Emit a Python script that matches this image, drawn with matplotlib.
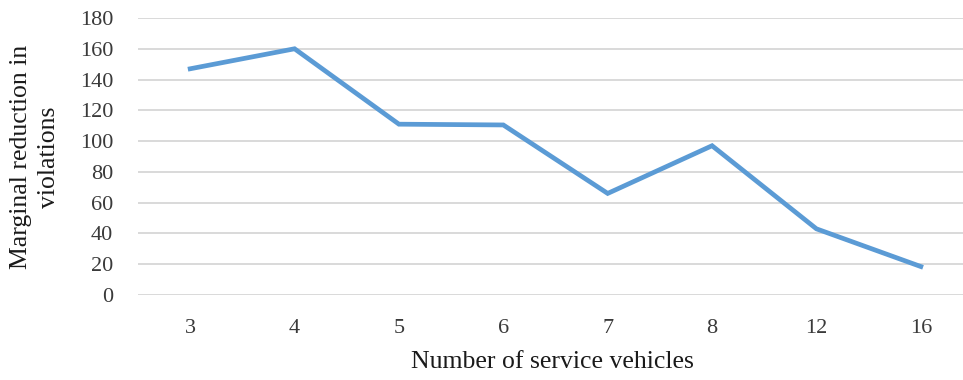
import matplotlib.pyplot as plt

# Marginal reduction in violations per added service vehicle
vehicles = ["3", "4", "5", "6", "7", "8", "12", "16"]
reduction = [147, 160, 111, 110.5, 66, 97, 43, 18.5]

plt.rcParams['font.family'] = ['Liberation Serif', 'DejaVu Serif']

W, H = 963, 380
fig = plt.figure(figsize=(W / 100, H / 100), dpi=100)
# plot area: left 140px, right edge runs past the image like the cropped original
left, right = 138, 973
top, bottom = 18, 295
ax = fig.add_axes([left / W, (H - bottom) / H, (right - left) / W, (bottom - top) / H])

x = range(len(vehicles))
ax.plot(x, reduction, color='#5B9BD5', linewidth=3.4, solid_joinstyle='miter', zorder=3)

ax.set_xlim(-0.5, len(vehicles) - 0.5)
ax.set_ylim(0, 180)
ax.set_yticks(range(0, 181, 20))
ax.set_xticks(list(x))
ax.set_xticklabels(vehicles)

ax.grid(axis='y', color='#D9D9D9', linewidth=1.4)
ax.set_axisbelow(True)
for s in ax.spines.values():
    s.set_visible(False)
ax.tick_params(axis='both', length=0, labelsize=16, colors='#3A3A3A')
ax.tick_params(axis='y', pad=18)
ax.tick_params(axis='x', pad=17)

fig.text(552 / W, 1 - 362 / H, 'Number of service vehicles', ha='center', va='center',
         fontsize=18.5, color='#1A1A1A')
fig.text(35 / W, 1 - 157 / H, 'Marginal reduction in\nviolations', ha='center', va='center',
         rotation=90, fontsize=18.5, color='#1A1A1A', linespacing=1.3)

fig.savefig('out.png', dpi=100)
